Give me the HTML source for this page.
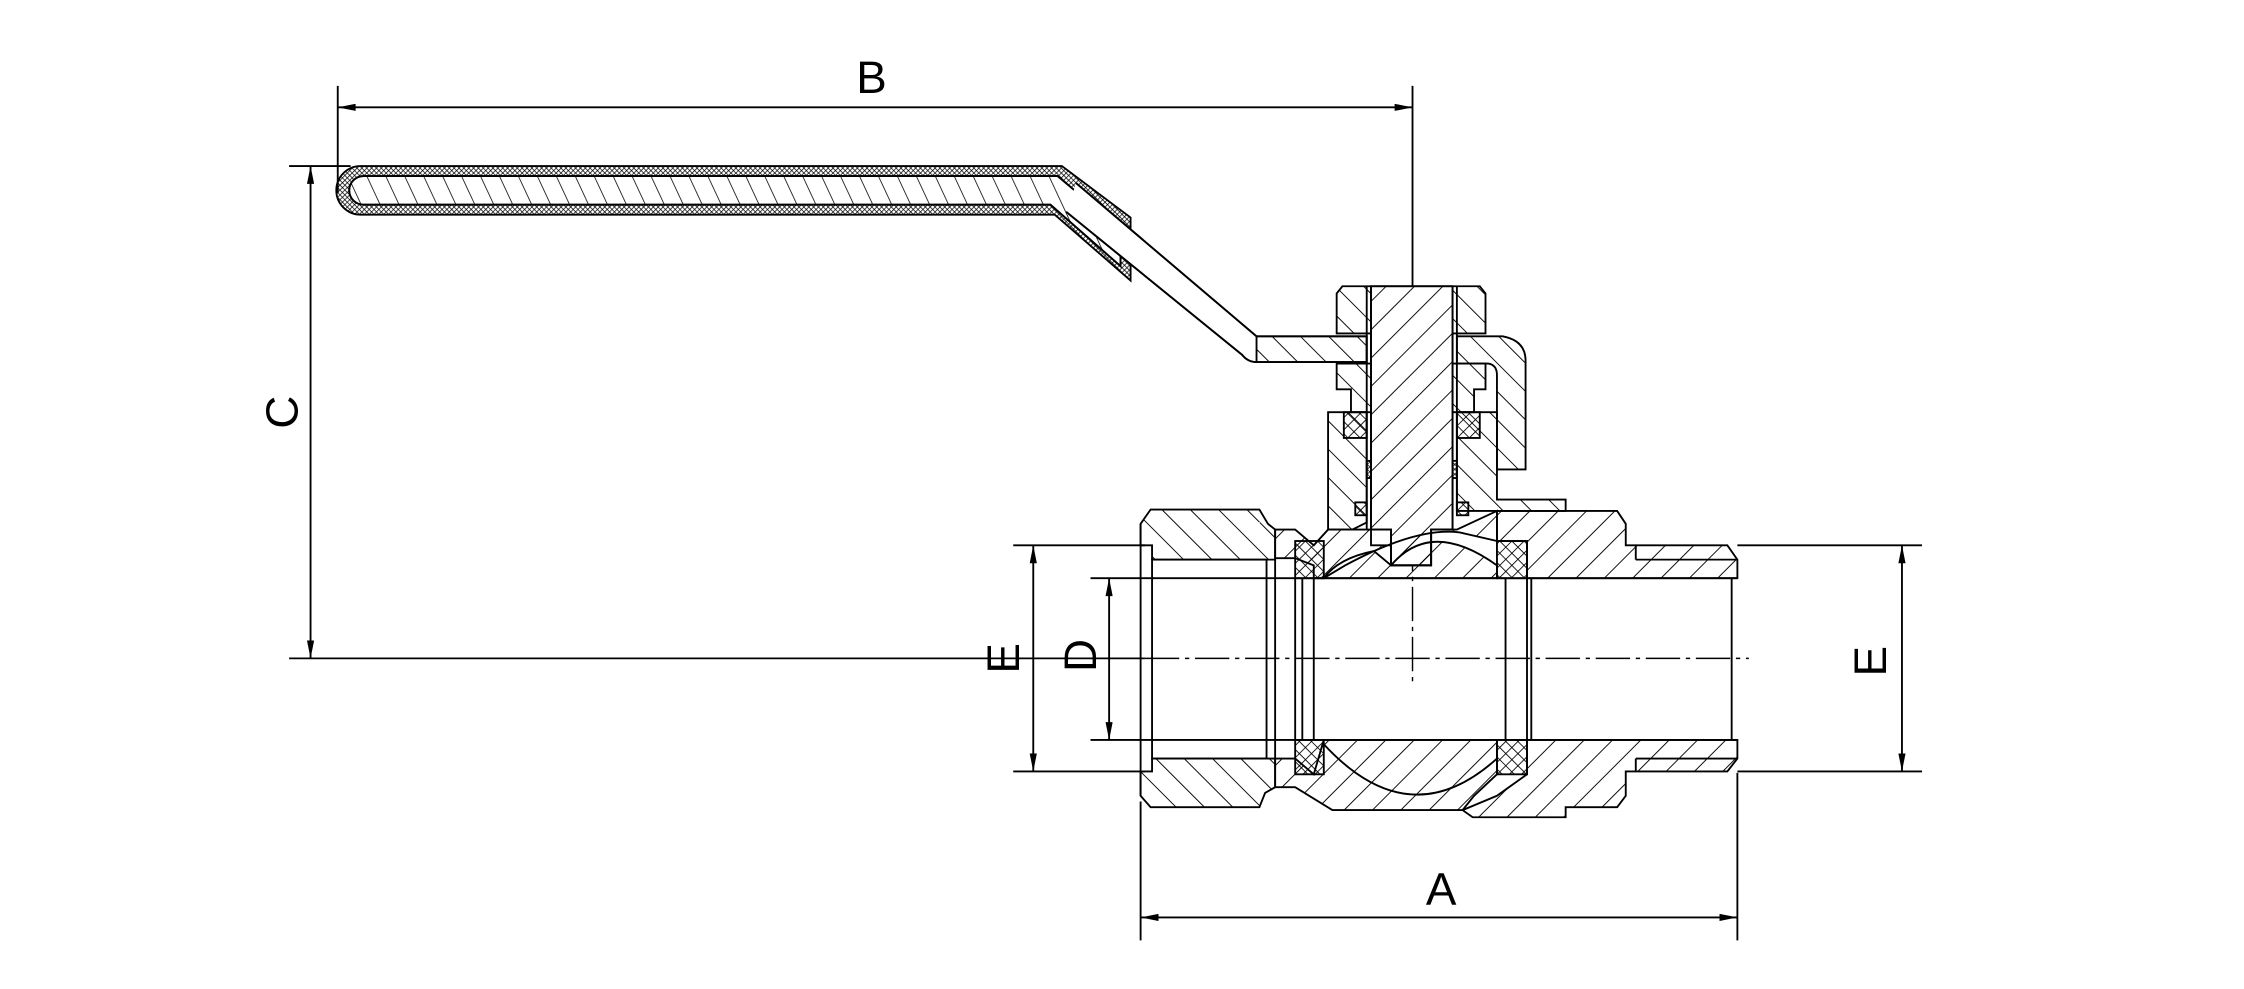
<!DOCTYPE html>
<html><head><meta charset="utf-8"><style>
html,body{margin:0;padding:0;background:#fff;}
svg{display:block}
text{font-family:"Liberation Sans Narrow","Liberation Sans",sans-serif;fill:#000}
</style></head><body>
<svg width="2244" height="989" viewBox="0 0 1568 691" preserveAspectRatio="none" xmlns="http://www.w3.org/2000/svg">
<defs>
<pattern id="h" width="14" height="14" patternUnits="userSpaceOnUse" patternTransform="rotate(45)">
<line x1="0" y1="0" x2="0" y2="14" stroke="#000" stroke-width="1.3"/></pattern>
<pattern id="h2" width="14" height="14" patternUnits="userSpaceOnUse" patternTransform="rotate(-45)">
<line x1="0" y1="0" x2="0" y2="14" stroke="#000" stroke-width="1.3"/></pattern>
<pattern id="h3" width="12" height="12" patternUnits="userSpaceOnUse" patternTransform="rotate(-25)">
<line x1="0" y1="0" x2="0" y2="12" stroke="#000" stroke-width="1.1"/></pattern>
<pattern id="x" width="6" height="6" patternUnits="userSpaceOnUse" patternTransform="rotate(45)">
<line x1="0" y1="0" x2="0" y2="6" stroke="#000" stroke-width="1.2"/><line x1="0" y1="0" x2="6" y2="0" stroke="#000" stroke-width="1.2"/></pattern>
<pattern id="xs" width="2.4" height="2.4" patternUnits="userSpaceOnUse" patternTransform="rotate(45)">
<line x1="0" y1="0" x2="0" y2="2.4" stroke="#000" stroke-width="1"/><line x1="0" y1="0" x2="2.4" y2="0" stroke="#000" stroke-width="1"/></pattern>
<marker id="a" viewBox="0 0 10 4" refX="10" refY="2" markerWidth="16" markerHeight="5" orient="auto-start-reverse" markerUnits="userSpaceOnUse"><path d="M0,0 L10,2 L0,4 Z" fill="#000"/></marker>
</defs>
<g fill="none" stroke="#000" stroke-width="1.3">
<!-- dimension B -->
<line x1="236" y1="60" x2="236" y2="135"/>
<line x1="987" y1="60" x2="987" y2="200"/>
<line x1="236" y1="75" x2="987" y2="75" marker-start="url(#a)" marker-end="url(#a)"/>
<!-- dimension C -->
<line x1="202" y1="116" x2="245" y2="116"/>
<line x1="202" y1="460" x2="800" y2="460"/>
<line x1="217" y1="116" x2="217" y2="460" marker-start="url(#a)" marker-end="url(#a)"/>
<!-- E left / D -->
<line x1="708" y1="381" x2="800" y2="381"/>
<line x1="708" y1="539" x2="800" y2="539"/>
<line x1="762" y1="404" x2="806" y2="404"/>
<line x1="762" y1="517" x2="806" y2="517"/>
<line x1="722" y1="381" x2="722" y2="539" marker-start="url(#a)" marker-end="url(#a)"/>
<line x1="775" y1="404" x2="775" y2="517" marker-start="url(#a)" marker-end="url(#a)"/>
<!-- E right -->
<line x1="1214" y1="381" x2="1343" y2="381"/>
<line x1="1214" y1="539" x2="1343" y2="539"/>
<line x1="1329" y1="381" x2="1329" y2="539" marker-start="url(#a)" marker-end="url(#a)"/>
<!-- A -->
<line x1="797" y1="560" x2="797" y2="657"/>
<line x1="1214" y1="540" x2="1214" y2="657"/>
<line x1="797" y1="641" x2="1214" y2="641" marker-start="url(#a)" marker-end="url(#a)"/>
<!-- center lines -->
<line x1="800" y1="460" x2="1222" y2="460" stroke-dasharray="24,4,3,4" stroke-width="1"/>
<line x1="987" y1="200" x2="987" y2="480" stroke-dasharray="24,4,3,4" stroke-width="1"/>

<!-- Handle grip -->
<path d="M252,116 L742,116 L790,152 L790,196 L737,150 L252,150 A17,17 0 0 1 252,116 Z" fill="url(#xs)"/>
<path d="M254,123 L739,123 L783,160 L783,186 L734,143 L254,143 A10,10 0 0 1 254,123 Z" fill="#fff"/>
<path d="M254,123 L739,123 L783,160 L783,186 L734,143 L254,143 A10,10 0 0 1 254,123 Z" fill="url(#h3)"/>
<!-- blade -->
<path d="M752,128 L878,235 L955,235 L955,253 L878,253 Q872,253 868,248 L745,148" fill="#fff"/>
<path d="M752,128 L878,235 M745,148 L868,248 Q872,253 878,253"/>
<path d="M878,235 L955,235 L955,253 L878,253 Z" fill="url(#h2)"/>

<!-- nut -->
<path d="M938,200 L1034,200 L1038,205 L1038,233 L934,233 L934,205 Z" fill="url(#h2)"/>
<path d="M934,254 L1038,254 L1038,272 L1030,272 L1030,288 L944,288 L944,272 L934,272 Z" fill="url(#h2)"/>
<!-- bracket -->
<path d="M1018,235 L1050,235 Q1066,238 1066,252 L1066,328 L1046,328 L1046,262 Q1046,255 1040,254 L1018,254 Z" fill="url(#h2)"/>
<!-- gland neck -->
<path d="M928,288 L955,288 L955,365 L945,370 L928,370 Z" fill="url(#h2)"/>
<path d="M1018,288 L1046,288 L1046,349 L1094,349 L1094,357 L1018,357 Z" fill="url(#h2)"/>
<!-- packing -->
<rect x="939" y="288" width="16" height="18" fill="url(#x)"/>
<rect x="1018" y="288" width="16" height="18" fill="url(#x)"/>
<rect x="955" y="322" width="8" height="12" fill="url(#xs)"/>
<rect x="1010" y="322" width="8" height="12" fill="url(#xs)"/>
<rect x="947" y="351" width="8" height="9" fill="url(#x)"/>
<rect x="1018" y="351" width="8" height="9" fill="url(#x)"/>
<!-- stem -->
<path d="M958,200 L1015,200 L1015,370 L1000,370 L1000,395 L972,395 L972,370 L958,370 Z" fill="#fff"/>
<path d="M958,200 L1015,200 L1015,370 L1000,370 L1000,395 L972,395 L972,370 L958,370 Z" fill="url(#h)"/>
<line x1="955" y1="200" x2="955" y2="370"/><line x1="1018" y1="200" x2="1018" y2="357"/>

<!-- left nut -->
<path d="M797,366 L804,356 L880,356 L886,366 L891,370 L891,391 L805,391 L805,381 L797,381 Z" fill="url(#h2)"/>
<path d="M797,539 L805,539 L805,530 L891,530 L891,550 L884,554 L880,564 L804,564 L797,556 Z" fill="url(#h2)"/>
<line x1="797" y1="366" x2="797" y2="556"/>
<rect x="805" y="391" width="80" height="139"/>
<line x1="891" y1="391" x2="891" y2="530"/>
<!-- body top center -->
<path d="M891,370 L905,370 L918,381 L928,370 L945,370 L958,370 L958,381 L972,381 L972,395 L1000,395 L1000,370 L1018,370 L1046,357 L1046,378 L1020,372 Q990,368 940,395 L925,404 L918,404 L918,395 L905,390 L891,390 Z" fill="url(#h)"/>
<!-- ball top -->
<path d="M925,404 L1046,404 L1046,395 Q1000,362 972,395 L960,385 Q935,390 925,404 Z" fill="url(#h)"/>
<!-- right body -->
<path d="M1046,357 L1094,357 L1130,357 L1136,366 L1136,381 L1207,381 L1214,391 L1214,404 L1067,404 L1067,378 L1046,378 Z" fill="url(#h)"/>
<line x1="1143" y1="381" x2="1143" y2="391"/><line x1="1143" y1="391" x2="1214" y2="391"/>
<path d="M1067,517 L1214,517 L1214,530 L1207,539 L1136,539 L1136,556 L1130,564 L1094,564 L1094,571 L1029,571 L1022,566 L1046,556 L1067,541 Z" fill="url(#h)"/>
<line x1="1143" y1="530" x2="1214" y2="530"/><line x1="1143" y1="530" x2="1143" y2="539"/>
<!-- body bottom center & ball bottom -->
<path d="M891,530 L905,530 L918,541 L925,517 L1046,517 L1046,541 L1030,556 L1022,566 L931,566 L905,550 L891,550 Z" fill="url(#h)"/>
<path d="M925,520 Q985,585 1046,530" fill="none"/>
<!-- seals -->
<rect x="905" y="378" width="20" height="26" fill="url(#x)"/>
<rect x="905" y="517" width="20" height="24" fill="url(#x)"/>
<rect x="1046" y="378" width="21" height="26" fill="url(#x)"/>
<rect x="1046" y="517" width="21" height="24" fill="url(#x)"/>
<!-- bore -->
<line x1="805" y1="404" x2="1214" y2="404"/>
<line x1="805" y1="517" x2="1214" y2="517"/>
<line x1="905" y1="404" x2="905" y2="517"/>
<line x1="910" y1="404" x2="910" y2="517"/>
<line x1="918" y1="404" x2="918" y2="517"/>
<line x1="1052" y1="404" x2="1052" y2="517"/>
<line x1="1067" y1="404" x2="1067" y2="517"/>
<line x1="1070" y1="404" x2="1070" y2="517"/>
<line x1="1210" y1="404" x2="1210" y2="517"/>
</g>
<g font-size="32">
<text x="609" y="65" text-anchor="middle">B</text>
<text x="1007" y="632" text-anchor="middle">A</text>
<text transform="translate(208,288) rotate(-90)" text-anchor="middle">C</text>
<text transform="translate(712,460) rotate(-90)" text-anchor="middle">E</text>
<text transform="translate(766,458) rotate(-90)" text-anchor="middle">D</text>
<text transform="translate(1318,462) rotate(-90)" text-anchor="middle">E</text>
</g>
</svg>
</body></html>
